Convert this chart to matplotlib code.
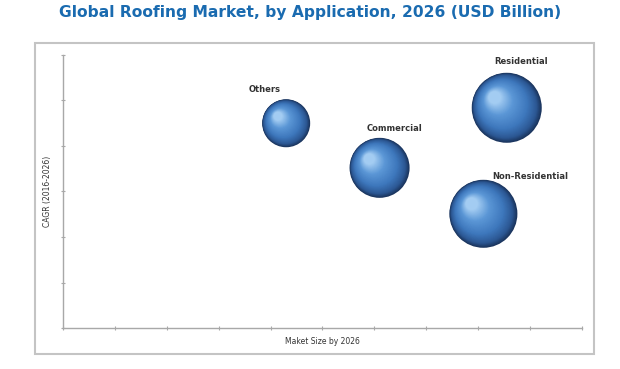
import numpy as np
import matplotlib.pyplot as plt
from matplotlib.colors import LinearSegmentedColormap
from matplotlib.patches import Rectangle
from matplotlib.transforms import offset_copy

categories = ["Others", "Commercial", "Residential", "Non-Residential"]
market_size = [4.3, 6.1, 8.55, 8.1]
cagr = [4.5, 3.52, 4.84, 2.51]
bubble_radius = [24, 30, 35, 34]  # px

# label offsets from bubble centre (px)
label_dx = [-22, 15, 14, 47]
label_dy = [34, 39, 46, 37]

fig = plt.figure(figsize=(6.2, 3.69), dpi=100)
fig.patch.set_facecolor("white")

fig.patches.append(Rectangle((35 / 620, 1 - 354 / 369), 559 / 620, 311 / 369,
                             transform=fig.transFigure, fill=False,
                             edgecolor="#c4c4c4", linewidth=1.5))

ax = fig.add_axes([63 / 620, 1 - 328 / 369, 519 / 620, 273 / 369])
ax.set_xlim(0, 10)
ax.set_ylim(0, 6)
ax.set_xticks(np.arange(0, 11))
ax.set_yticks(np.arange(0, 7))
ax.set_xticklabels([])
ax.set_yticklabels([])
for s in ["top", "right"]:
    ax.spines[s].set_visible(False)
for s in ["left", "bottom"]:
    ax.spines[s].set_color("#a8a8a8")
    ax.spines[s].set_linewidth(1)
ax.tick_params(length=2.5, width=0.8, color="#a8a8a8", direction="inout")

ax.set_xlabel("Maket Size by 2026", fontsize=5.5, color="#333333", labelpad=2)
ax.set_ylabel("CAGR (2016-2026)", fontsize=5.5, color="#333333", labelpad=3)

cmap = LinearSegmentedColormap.from_list(
    "sphere", [(0, "#1b355e"), (0.12, "#2c5894"), (0.35, "#3e78bd"),
               (0.7, "#5b97d6"), (1, "#a3ccf2")])

px2pt = 72 / fig.dpi
steps = 45
ux, uy = -0.76, 0.65  # direction of highlight (upper-left)
for x, y, r in zip(market_size, cagr, bubble_radius):
    for i in range(steps):
        f = i / (steps - 1)
        rr = r * (1 - 0.82 * f)
        d = 0.55 * (r - rr)
        tr = offset_copy(ax.transData, fig=fig, x=ux * d * px2pt,
                         y=uy * d * px2pt, units="points")
        ax.scatter([x], [y], s=(2 * rr * px2pt) ** 2, color=cmap(f),
                   transform=tr, edgecolors="none", zorder=3 + i)

for name, x, y, dx, dy in zip(categories, market_size, cagr, label_dx, label_dy):
    ax.annotate(name, (x, y), xytext=(dx * px2pt, dy * px2pt),
                textcoords="offset points", ha="center", va="center",
                fontsize=6, fontweight="bold", color="#333333")

fig.text(0.5, 1 - 13 / 369, "Global Roofing Market, by Application, 2026 (USD Billion)",
         ha="center", va="center", fontsize=11.2, fontweight="bold", color="#1a6bb0")

fig.savefig("out.png", dpi=100)
